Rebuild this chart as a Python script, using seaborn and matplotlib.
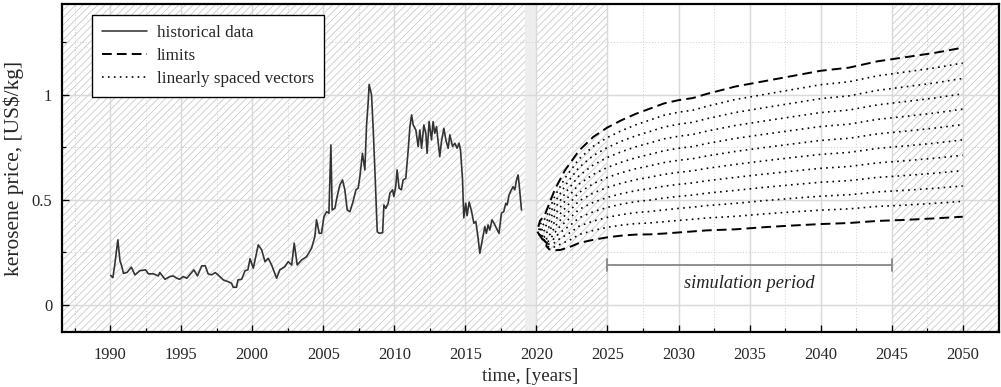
import numpy as np
import matplotlib
matplotlib.use("Agg")
import matplotlib.pyplot as plt
from matplotlib.lines import Line2D
from matplotlib.ticker import MultipleLocator
import seaborn as sns

# Monthly-ish historical kerosene price, US$/kg
hist_year = [
    1990.05, 1990.2, 1990.35, 1990.55, 1990.7, 1990.8, 1990.95, 1991.2, 1991.5, 1991.75,
    1992.1, 1992.5, 1992.7, 1993.05, 1993.4, 1993.5, 1993.87, 1994.2, 1994.45, 1994.7,
    1994.9, 1995.15, 1995.4, 1995.6, 1995.9, 1996.15, 1996.45, 1996.7, 1996.9, 1997.15,
    1997.4, 1997.6, 1997.97, 1998.3, 1998.55, 1998.67, 1998.9, 1999.0, 1999.26, 1999.5,
    1999.7, 1999.85, 2000.08, 2000.43, 2000.67, 2000.9, 2001.13, 2001.37, 2001.72, 2001.95,
    2002.3, 2002.54, 2002.78, 2002.96, 2003.17, 2003.48, 2003.83, 2004.18, 2004.41, 2004.53,
    2004.72, 2004.88, 2005.05, 2005.24, 2005.4, 2005.54, 2005.63, 2005.82, 2005.98, 2006.17,
    2006.36, 2006.52, 2006.69, 2006.88, 2007.1, 2007.3, 2007.46, 2007.58, 2007.76, 2007.93,
    2008.05, 2008.16, 2008.23, 2008.4, 2008.52, 2008.66, 2008.8, 2008.94, 2009.18, 2009.27,
    2009.4, 2009.57, 2009.69, 2009.88, 2009.97, 2010.1, 2010.2, 2010.34, 2010.5, 2010.62,
    2010.81, 2010.98, 2011.1, 2011.22, 2011.33, 2011.52, 2011.68, 2011.8, 2011.92, 2012.08,
    2012.22, 2012.31, 2012.45, 2012.62, 2012.73, 2012.85, 2012.97, 2013.2, 2013.32, 2013.49,
    2013.63, 2013.79, 2013.91, 2014.1, 2014.26, 2014.42, 2014.56, 2014.66, 2014.8, 2014.89,
    2015.03, 2015.12, 2015.27, 2015.43, 2015.6, 2015.74, 2015.9, 2016.02, 2016.2, 2016.37,
    2016.48, 2016.6, 2016.72, 2016.88, 2017.02, 2017.19, 2017.37, 2017.54, 2017.7, 2017.85,
    2017.94, 2018.08, 2018.24, 2018.36, 2018.48, 2018.6, 2018.71, 2018.78, 2018.95,
]
hist_price = [
    0.14, 0.13, 0.20, 0.31, 0.21, 0.19, 0.15, 0.155, 0.18, 0.143,
    0.163, 0.167, 0.148, 0.148, 0.138, 0.154, 0.122, 0.135, 0.138, 0.127,
    0.122, 0.135, 0.127, 0.143, 0.167, 0.138, 0.186, 0.186, 0.148, 0.143,
    0.154, 0.143, 0.119, 0.111, 0.103, 0.084, 0.084, 0.119, 0.122, 0.163,
    0.167, 0.22, 0.175, 0.286, 0.262, 0.206, 0.222, 0.19, 0.127, 0.167,
    0.182, 0.206, 0.19, 0.294, 0.19, 0.214, 0.23, 0.27, 0.325, 0.405,
    0.341, 0.341, 0.42, 0.444, 0.437, 0.762, 0.452, 0.46, 0.516, 0.571,
    0.595, 0.548, 0.452, 0.444, 0.492, 0.548, 0.556, 0.611, 0.722, 0.643,
    0.857, 0.96, 1.05, 1.0, 0.833, 0.6, 0.349, 0.341, 0.344, 0.476,
    0.46, 0.484, 0.532, 0.548, 0.516, 0.563, 0.643, 0.556, 0.548, 0.595,
    0.603, 0.738, 0.849, 0.905, 0.857, 0.833, 0.754, 0.833, 0.746, 0.857,
    0.817, 0.722, 0.873, 0.786, 0.873, 0.817, 0.849, 0.706, 0.778, 0.841,
    0.786, 0.746, 0.81, 0.754, 0.77, 0.746, 0.77, 0.738, 0.6, 0.415,
    0.484, 0.425, 0.49, 0.448, 0.389, 0.397, 0.317, 0.246, 0.31, 0.373,
    0.341, 0.381, 0.357, 0.405, 0.389, 0.365, 0.341, 0.437, 0.444, 0.484,
    0.476, 0.524, 0.548, 0.563, 0.548, 0.595, 0.619, 0.579, 0.452,
]

# Upper and lower scenario limits (time, price)
upper_year = [2020.45, 2020.05, 2020.25, 2020.6, 2021.3, 2022.0, 2023.0, 2024.0, 2025.0,
              2026.0, 2027.0, 2028.0, 2029.0, 2030.0, 2031.0, 2032.0, 2034.0, 2036.0,
              2038.0, 2040.0, 2042.0, 2044.0, 2046.0, 2048.0, 2050.0]
upper_price = [0.31, 0.35, 0.40, 0.43, 0.55, 0.64, 0.735, 0.80, 0.845,
               0.88, 0.91, 0.935, 0.96, 0.975, 0.985, 1.005, 1.04, 1.065,
               1.09, 1.115, 1.13, 1.16, 1.18, 1.20, 1.225]
lower_year = [2020.75, 2020.7, 2020.9, 2021.3, 2021.7, 2022.5, 2023.0, 2024.0, 2025.0,
              2026.0, 2027.0, 2028.0, 2029.0, 2030.0, 2031.0, 2032.0, 2034.0, 2036.0,
              2038.0, 2040.0, 2042.0, 2044.0, 2046.0, 2048.0, 2050.0]
lower_price = [0.30, 0.28, 0.265, 0.26, 0.262, 0.28, 0.295, 0.31, 0.322,
               0.33, 0.335, 0.336, 0.34, 0.345, 0.35, 0.355, 0.36, 0.37,
               0.378, 0.385, 0.39, 0.40, 0.405, 0.412, 0.42]
n_vectors = 12  # limits included

x_ticks = [1990, 1995, 2000, 2005, 2010, 2015, 2020, 2025, 2030, 2035, 2040, 2045, 2050]
y_ticks = [0, 0.5, 1]
y_tick_labels = ["0", "0.5", "1"]

legend_labels = ["historical data", "limits", "linearly spaced vectors"]

sns.set_theme(style="white")
plt.rcParams["font.family"] = ["Liberation Serif", "DejaVu Serif"]
plt.rcParams["hatch.linewidth"] = 0.7
plt.rcParams["hatch.color"] = "#cccccc"

DPI = 88
fig = plt.figure(figsize=(1001 / DPI, 387 / DPI), dpi=DPI)
ax = fig.add_axes([62 / 1001, 55 / 387, 937 / 1001, 328 / 387])

x_lo, x_hi = 1986.62, 2052.55
y_lo, y_hi = -0.129, 1.433

# Shaded background regions
for a, b in [(x_lo, 2019.2), (2020.0, 2025.0), (2045.0, x_hi)]:
    ax.axvspan(a, b, facecolor="none", edgecolor="#cccccc", hatch="////",
               linewidth=0, zorder=0.2)
ax.axvspan(2019.2, 2020.0, facecolor="#eeeeee", edgecolor="none", zorder=0.2)

# Historical data
sns.lineplot(x=hist_year, y=hist_price, ax=ax, color="#333333", linewidth=1.35,
             sort=False, estimator=None, zorder=3)

# Linearly spaced vectors between the limits
uy = np.array(upper_year); up = np.array(upper_price)
ly = np.array(lower_year); lp = np.array(lower_price)
for k, w in enumerate(np.linspace(0.0, 1.0, n_vectors)):
    vx = ly + w * (uy - ly)
    vy = lp + w * (up - lp)
    if k in (0, n_vectors - 1):
        ls = (0, (5, 2.6)); lw = 1.6
    else:
        ls = (0, (1, 2.6)); lw = 1.35
    sns.lineplot(x=vx, y=vy, ax=ax, color="black", linewidth=lw, linestyle=ls,
                 sort=False, estimator=None, zorder=3)

# Simulation period bracket
ax.plot([2025, 2045], [0.19, 0.19], color="#888888", lw=1.5, zorder=3)
for xe in (2025, 2045):
    ax.plot([xe, xe], [0.16, 0.22], color="#888888", lw=1.5, zorder=3)
ax.text(2035, 0.10, "simulation period", ha="center", va="center",
        fontstyle="italic", fontsize=15, color="#222222", zorder=4)

ax.set_xlim(x_lo, x_hi)
ax.set_ylim(y_lo, y_hi)
ax.set_xticks(x_ticks)
ax.set_yticks(y_ticks)
ax.set_yticklabels(y_tick_labels)
ax.xaxis.set_minor_locator(MultipleLocator(2.5))
ax.yaxis.set_minor_locator(MultipleLocator(0.25))

ax.set_axisbelow(True)
ax.grid(which="major", color="#d9d9d9", linewidth=1.2, linestyle="-", zorder=0.5)
ax.grid(which="minor", color="#d0d0d0", linewidth=0.8, linestyle=(0, (1, 2)), zorder=0.5)

ax.tick_params(which="both", direction="in", color="black", top=False, right=False,
               bottom=True, left=True, labelsize=13.5)
ax.tick_params(axis="x", which="major", length=6, width=1.1, pad=12)
ax.tick_params(axis="y", which="major", length=6, width=1.1, pad=8)
ax.tick_params(which="minor", length=3.5, width=1.0)
for s in ax.spines.values():
    s.set_color("black")
    s.set_linewidth(1.8)

ax.set_xlabel("time, [years]", fontsize=15.5, labelpad=4)
ax.set_ylabel("kerosene price, [US\\$/kg]", fontsize=17.5, labelpad=6)

handles = [
    Line2D([], [], color="#333333", lw=1.3),
    Line2D([], [], color="black", lw=1.6, linestyle=(0, (5, 2.6))),
    Line2D([], [], color="black", lw=1.35, linestyle=(0, (1, 2.6))),
]
leg = ax.legend(handles, legend_labels, loc="upper left",
                bbox_to_anchor=(30 / 937, 1 - 11 / 328), borderaxespad=0,
                fontsize=14, handlelength=2.6, handletextpad=0.6,
                labelspacing=0.4, borderpad=0.6, fancybox=False, framealpha=1)
leg.get_frame().set_edgecolor("black")
leg.get_frame().set_linewidth(1.1)

fig.savefig("out.png", dpi=DPI)
